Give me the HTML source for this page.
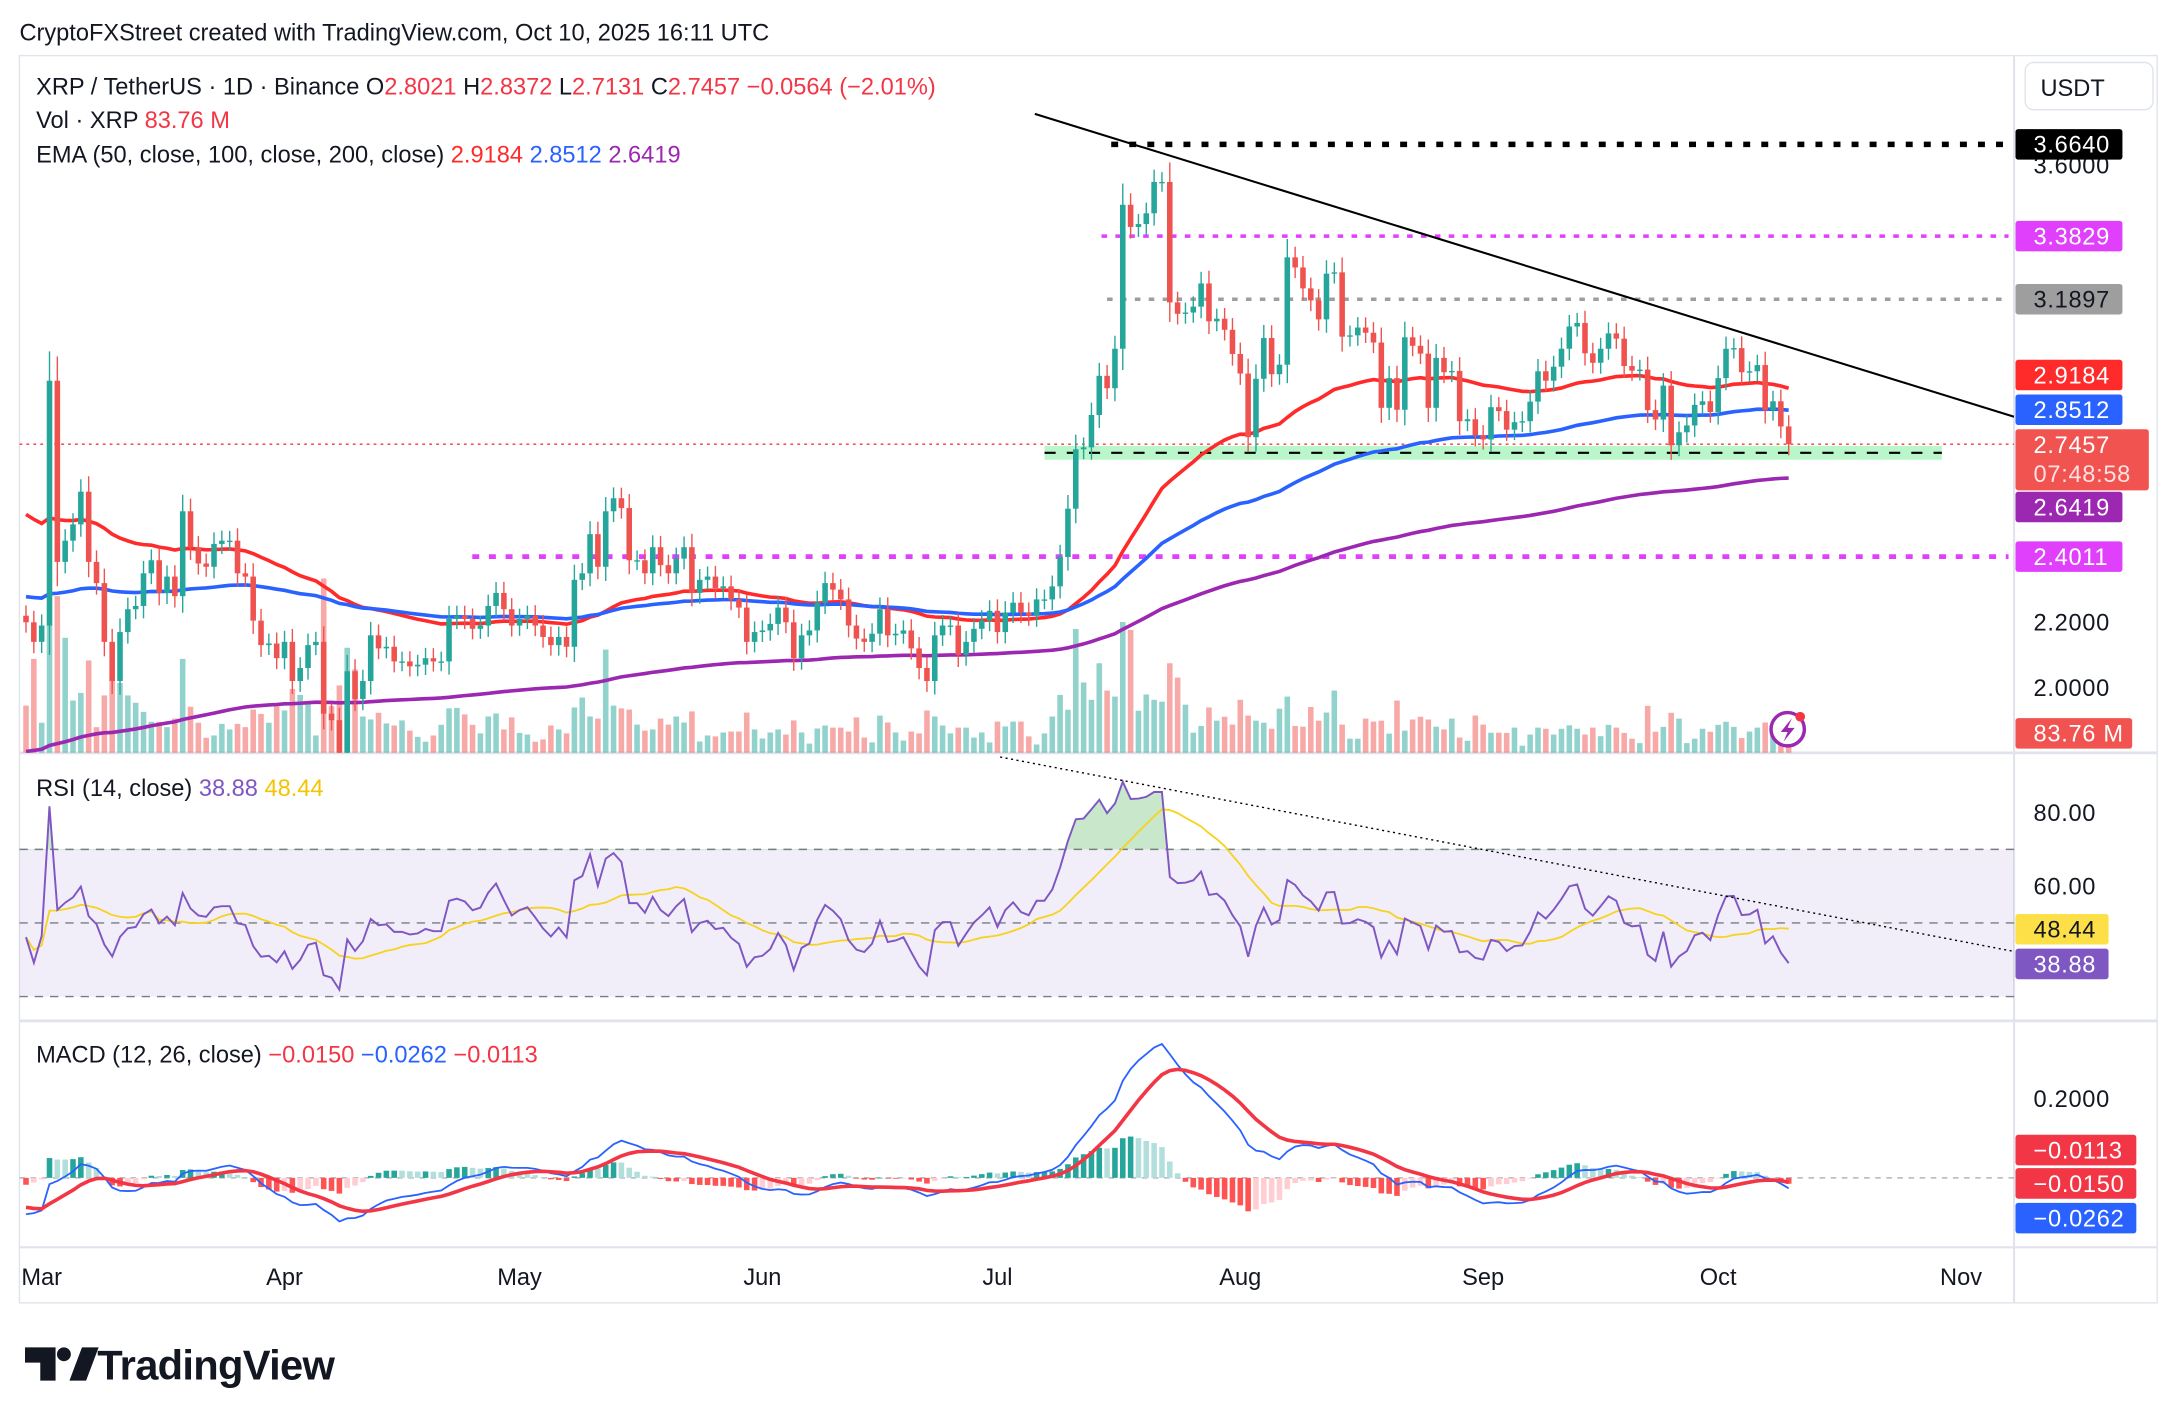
<!DOCTYPE html>
<html><head><meta charset="utf-8"><style>
html,body{margin:0;padding:0;background:#fff;}
svg{display:block;font-family:"Liberation Sans",sans-serif;}
</style></head><body>
<svg id="chart" width="2178" height="1424" viewBox="0 0 1568 1025.2" preserveAspectRatio="none" xmlns="http://www.w3.org/2000/svg">
<rect x="0" y="0" width="1568" height="1026" fill="#fff"/>
<text x="14" y="29" font-size="17" fill="#131722">CryptoFXStreet created with TradingView.com, Oct 10, 2025 16:11 UTC</text>
<rect x="14" y="40" width="1539" height="898" fill="none" stroke="#e0e3eb" stroke-width="1"/>
<line x1="1450" y1="40" x2="1450" y2="938" stroke="#e0e3eb" stroke-width="1.5"/>
<line x1="14" y1="542" x2="1553" y2="542" stroke="#e0e3eb" stroke-width="2"/>
<line x1="14" y1="735" x2="1553" y2="735" stroke="#e0e3eb" stroke-width="2"/>
<line x1="14" y1="898" x2="1553" y2="898" stroke="#e0e3eb" stroke-width="1.5"/>
<g id="main"></g>
<g id="rsi"></g>
<g id="macd"></g>
<g id="axes"></g>
<g id="legend">
<text x="26" y="68" font-size="17" fill="#131722">XRP / TetherUS · 1D · Binance  O<tspan fill="#f23645">2.8021</tspan>  H<tspan fill="#f23645">2.8372</tspan>  L<tspan fill="#f23645">2.7131</tspan>  C<tspan fill="#f23645">2.7457</tspan>  <tspan fill="#f23645">−0.0564 (−2.01%)</tspan></text>
<text x="26" y="92" font-size="17" fill="#131722">Vol · XRP  <tspan fill="#f23645">83.76 M</tspan></text>
<text x="26" y="117" font-size="17" fill="#131722">EMA (50, close, 100, close, 200, close)  <tspan fill="#ff2b2b">2.9184</tspan>  <tspan fill="#2962ff">2.8512</tspan>  <tspan fill="#9c27b0">2.6419</tspan></text>
<text x="26" y="573" font-size="17" fill="#131722">RSI (14, close)  <tspan fill="#7e57c2">38.88</tspan>  <tspan fill="#f5c400">48.44</tspan></text>
<text x="26" y="765" font-size="17" fill="#131722">MACD (12, 26, close)  <tspan fill="#f23645">−0.0150</tspan>  <tspan fill="#2962ff">−0.0262</tspan>  <tspan fill="#f23645">−0.0113</tspan></text>
</g>
<g>
<rect x="1458" y="45" width="92" height="34" rx="6" fill="#fff" stroke="#e0e3eb"/>
<text x="1469" y="69" font-size="17" fill="#131722">USDT</text>
</g>
<g>
<path d="M18 970 h22 v24 h-11 v-13 h-11 z" fill="#131722"/>
<circle cx="46" cy="975" r="5" fill="#131722"/>
<path d="M50 994 l9 -24 h12 l-9 24 z" fill="#131722"/>
<text x="70" y="993" font-size="30" font-weight="bold" fill="#131722" letter-spacing="-0.5">TradingView</text>
</g>
</svg>
<script>
const closes = [2.20,2.14,2.19,2.94,2.385,2.45,2.50,2.60,2.385,2.32,
2.14,2.02,2.17,2.24,2.25,2.35,2.39,2.29,2.34,2.28,
2.54,2.43,2.38,2.37,2.44,2.45,2.45,2.35,2.34,2.205,
2.13,2.135,2.09,2.14,2.02,2.06,2.13,2.14,1.92,1.90,
1.80,2.05,1.965,2.02,2.16,2.12,2.125,2.08,2.08,2.065,
2.07,2.09,2.08,2.08,2.21,2.22,2.21,2.18,2.19,2.25,
2.29,2.24,2.19,
2.21,2.22,2.19,2.155,2.13,2.155,2.125,2.33,2.35,2.47,
2.37,2.54,2.58,2.55,2.39,2.39,2.35,2.43,2.375,2.35,
2.395,2.43,2.29,2.33,2.34,2.305,2.31,2.27,2.245,2.14,
2.17,2.175,2.195,2.245,2.20,2.09,2.16,2.175,2.26,2.32,
2.30,2.27,2.19,2.15,2.14,2.165,2.24,2.16,2.165,2.175,
2.12,2.06,2.02,2.16,2.19,2.19,2.10,2.14,2.18,2.205,
2.235,2.17,2.23,2.26,2.23,2.22,2.27,2.27,2.31,2.40,
2.548,2.73,2.736,2.835,2.955,2.917,3.038,3.479,3.411,3.42,
3.453,3.549,3.549,3.18,3.145,3.149,3.167,3.238,3.122,3.13,
3.096,3.022,2.962,2.767,2.946,3.071,2.96,2.989,3.318,3.287,
3.223,3.186,3.128,3.268,3.272,3.075,3.079,3.103,3.087,3.057,
2.857,2.948,2.851,3.073,3.047,3.023,2.857,3.01,2.966,2.97,
2.816,2.822,2.773,2.76,2.859,2.847,
2.79,2.813,2.816,2.876,2.969,2.94,2.983,3.038,3.106,3.117,
3.024,2.995,3.038,3.085,3.069,2.985,2.971,2.974,2.85,2.821,
2.925,2.742,2.782,2.803,2.866,2.877,2.844,2.948,3.038,3.04,
2.966,2.969,2.988,2.85,2.877,2.8,2.7457];
const volumes = [204,406,130,560,677,497,226,259,399,111,
248,331,302,248,216,177,134,134,111,148,
406,199,130,65,75,125,101,125,111,187,
168,130,202,183,276,250,220,75,753,202,
291,454,360,157,144,173,127,118,140,96,
69,48,75,121,192,194,166,121,84,157,
170,101,153,
86,79,48,58,118,101,84,196,239,157,
148,446,204,192,187,122,96,101,148,122,
157,131,179,49,75,71,88,92,92,174,
101,62,88,101,79,140,88,40,105,118,
109,109,92,153,66,45,161,131,88,53,
92,84,183,157,118,84,109,109,66,88,
45,135,114,135,135,71,36,84,157,250,
186,535,304,229,387,269,243,565,531,182,
252,229,221,387,325,208,87,116,196,139,
156,122,229,161,139,130,104,191,243,116,
113,198,139,174,269,122,61,61,148,135,
139,83,226,96,144,156,144,113,101,148,
66,52,161,122,87,87,
86,109,31,79,109,104,79,104,119,104,
79,109,72,121,109,86,61,42,203,91,
112,173,148,42,61,104,91,121,134,112,
64,92,109,131,109,120,84];
const firstOpen = 2.22;
const emaSeeds = [2.544, 2.28, 1.80];
const priceTicks = [3.6, 2.2, 2.0];
const rsiTicks = [80, 60];
const macdTicks = [0.2];
const monthLabels = ["Mar","Apr","May","Jun","Jul","Aug","Sep","Oct","Nov"];
const monthDays = [0,31,61,92,122,153,184,214,245];
const levels = [3.664, 3.3829, 3.1897, 2.4011];

const NS = "http://www.w3.org/2000/svg";
function mk(tag, attrs, parent){const e=document.createElementNS(NS,tag);for(const k in attrs)e.setAttribute(k,attrs[k]);parent.appendChild(e);return e;}
const xOf = i => 18.72 + 5.64*i;
const xDay = d => 30 + 5.64*d;
const yP = p => 495 - (p-2)*235;
const yR = v => 638 - (v-60)*2.65;
const yM = v => 848 - v*285;
const yV = v => 542 - v/6;
const main = document.getElementById('main'), rsiG = document.getElementById('rsi'), macdG = document.getElementById('macd'), axes = document.getElementById('axes');
const N = closes.length;
const opens = closes.map((c,i)=> i===0 ? firstOpen : closes[i-1]);

const defs = mk('defs',{},document.getElementById('chart'));
const cp = mk('clipPath',{id:'mainclip'},defs); mk('rect',{x:14,y:40,width:1436,height:502},cp);
const cpr = mk('clipPath',{id:'obclip'},defs); mk('rect',{x:14,y:542,width:1436,height:70},cpr);
main.setAttribute('clip-path','url(#mainclip)');

for(let i=0;i<N;i++){
  const up = closes[i]>=opens[i];
  const r = mk('rect',{x:xOf(i)-2,y:yV(volumes[i]),width:4,height:542-yV(volumes[i]),fill: up?'rgba(38,166,154,0.5)':'rgba(239,83,80,0.5)'},main);
  
  
}
const lvCol = ['#000','#e040fb','#9e9e9e','#e040fb'];
const lvX = [800,793,797,340];
const lvDash = ['5 8','4 6','4 6','5 7'];
const lvW = [4,2.5,2.5,3.5];
levels.forEach((lv,k)=>{
  const l = mk('line',{x1:lvX[k],x2:1446,y1:yP(lv),y2:yP(lv),stroke:lvCol[k],'stroke-width':lvW[k],'stroke-dasharray':lvDash[k]},main);
  
  
});
const zone = mk('rect',{x:752,y:321,width:646,height:10,fill:'#b9f6ca'},main);


mk('line',{x1:752,x2:1398,y1:326,y2:326,stroke:'#000','stroke-width':1.5,'stroke-dasharray':'8 8'},main);
const pl = mk('line',{x1:14,x2:1450,y1:yP(2.7457),y2:yP(2.7457),stroke:'#f23645','stroke-width':1,'stroke-dasharray':'2 3'},main);


const tl = mk('line',{x1:745,y1:82,x2:1450,y2:300,stroke:'#000','stroke-width':1.5},main);



function ema(arr, n, seed){const k=2/(n+1);let e=seed;return arr.map(v=>(e=v*k+e*(1-k)));}
const emaCols=['#ff2b2b','#2962ff','#9c27b0'], emaN=[50,100,200], emaNames=['ema-50-line','ema-100-line','ema-200-line'];
emaN.forEach((n,k)=>{
  const e = ema(closes,n,emaSeeds[k]);
  const p = mk('path',{d:e.map((v,i)=>(i?'L':'M')+xOf(i).toFixed(1)+' '+yP(v).toFixed(1)).join(''),fill:'none',stroke:emaCols[k],'stroke-width':2.6},main);
  
  
});
for(let i=0;i<N;i++){
  const o=opens[i],c=closes[i],up=c>=o,col=up?'#26a69a':'#ef5350';
  const hi=Math.max(o,c)+0.03+Math.abs(c-o)*0.08, lo=Math.min(o,c)-0.03-Math.abs(c-o)*0.08;
  const g = mk('g',{},main);
  
  
  mk('line',{x1:xOf(i),x2:xOf(i),y1:yP(hi),y2:yP(lo),stroke:col,'stroke-width':1},g);
  mk('rect',{x:xOf(i)-2,y:yP(Math.max(o,c)),width:4,height:Math.max(1,Math.abs(yP(o)-yP(c))),fill:col},g);
}
const li = mk('g',{},main);  
mk('circle',{cx:1287,cy:525,r:12,fill:'#fff',stroke:'#9c27b0','stroke-width':2.5},li);
mk('path',{d:'M1290 517 l-8 10 h5 l-3 7 l8 -10 h-5 z',fill:'#9c27b0'},li);
mk('circle',{cx:1296,cy:516,r:3.5,fill:'#f23645'},li);

const rsi=[]; {let ag=0,al=0;
 for(let i=0;i<N;i++){const ch=i?closes[i]-closes[i-1]:0;const g=Math.max(ch,0),l=Math.max(-ch,0);
  if(i===0){ag=0.012;al=0.014;} else {ag=(ag*13+g)/14;al=(al*13+l)/14;}
  rsi.push(100-100/(1+ag/Math.max(al,1e-9)));}}
const rsiMa = rsi.map((v,i)=>{const s=rsi.slice(Math.max(0,i-13),i+1);return s.reduce((a,b)=>a+b,0)/s.length;});
mk('rect',{x:14,y:yR(70),width:1436,height:yR(30)-yR(70),fill:'rgba(126,87,194,0.1)'},rsiG);
[70,50,30].forEach(v=>mk('line',{x1:14,x2:1450,y1:yR(v),y2:yR(v),stroke:'#787b86','stroke-width':1,'stroke-dasharray':'6 5'},rsiG));
const rsiD = rsi.map((v,i)=>(i?'L':'M')+xOf(i).toFixed(1)+' '+yR(v).toFixed(1)).join('');
mk('path',{d:rsiD+`L${xOf(N-1)} ${yR(70)}L${xOf(0)} ${yR(70)}Z`,fill:'rgba(76,175,80,0.3)','clip-path':'url(#obclip)'},rsiG);
const rm = mk('path',{d:rsiMa.map((v,i)=>(i?'L':'M')+xOf(i).toFixed(1)+' '+yR(v).toFixed(1)).join(''),fill:'none',stroke:'#f7d21e','stroke-width':1.3},rsiG);
 
const rl = mk('path',{d:rsiD,fill:'none',stroke:'#7e57c2','stroke-width':1.4},rsiG);
 
mk('line',{x1:720,y1:545,x2:1450,y2:685,stroke:'#000','stroke-width':1,'stroke-dasharray':'1.5 2.5'},rsiG);

const e12=ema(closes,12,2.19), e26=ema(closes,26,2.29);
const macd=e12.map((v,i)=>v-e26[i]); const sig=ema(macd,9,-0.07); const hist=macd.map((v,i)=>v-sig[i]);
mk('line',{x1:14,x2:1450,y1:yM(0),y2:yM(0),stroke:'#b2b5be','stroke-width':1,'stroke-dasharray':'4 4'},macdG);
for(let i=0;i<N;i++){const h=hist[i],pr=i?hist[i-1]:0;
 const col = h>=0 ? (h>=pr?'#26a69a':'#b2dfdb') : (h<=pr?'#ff5252':'#ffcdd2');
 const r=mk('rect',{x:xOf(i)-2,y:Math.min(yM(h),yM(0)),width:4,height:Math.max(0.5,Math.abs(yM(h)-yM(0))),fill:col},macdG);
 
 }
const ml=mk('path',{d:macd.map((v,i)=>(i?'L':'M')+xOf(i).toFixed(1)+' '+yM(v).toFixed(1)).join(''),fill:'none',stroke:'#2962ff','stroke-width':1.3},macdG);
 
const sl=mk('path',{d:sig.map((v,i)=>(i?'L':'M')+xOf(i).toFixed(1)+' '+yM(v).toFixed(1)).join(''),fill:'none',stroke:'#f23645','stroke-width':2.6},macdG);
 

function tick(txt,y,name){const t=mk('text',{x:1464,y:y+6,'font-size':17,fill:'#131722','letter-spacing':'0.5'},axes);t.textContent=txt;
  }
priceTicks.forEach(p=>tick(p.toFixed(4),yP(p),'price-tick'));
rsiTicks.forEach(v=>tick(v.toFixed(2),yR(v),'rsi-tick'));
macdTicks.forEach(v=>tick(v.toFixed(4),yM(v),'macd-tick'));
monthLabels.forEach((m,k)=>{const t=mk('text',{x:xDay(monthDays[k]),y:925,'font-size':17,'text-anchor':'middle',fill:'#131722'},axes);t.textContent=m;
  });
function badge(txt,y,bg,fg,w,name,h){h=h||22;const g=mk('g',{},axes);
 mk('rect',{x:1451,y:y-11,width:w||77,height:h,rx:2,fill:bg},g);
 const t=mk('text',{x:1464,y:y+6,'font-size':17,fill:fg,'letter-spacing':'0.5'},g);t.textContent=txt;return g;}
badge('3.6640',yP(3.664),'#000','#fff',0,'level-label-3.6640');
badge('3.3829',yP(3.3829),'#e040fb','#fff',0,'level-label-3.3829');
badge('3.1897',yP(3.1897),'#9e9e9e','#131722',0,'level-label-3.1897');
badge('2.9184',270,'#ff2b2b','#fff',0,'ema50-label');
badge('2.8512',295,'#2962ff','#fff',0,'ema100-label');
const lp=badge('2.7457',320,'#f05350','#fff',96,'last-price-label',44);
const cd=mk('text',{x:1464,y:347,'font-size':17,fill:'#fde0df','letter-spacing':'0.5'},lp);cd.textContent='07:48:58';
badge('2.6419',365,'#9c27b0','#fff',0,'ema200-label');
badge('2.4011',yP(2.4011),'#e040fb','#fff',0,'level-label-2.4011');
badge('83.76 M',528,'#f05350','#fff',84,'volume-label');
badge('48.44',669,'#fde047','#131722',67,'rsi-ma-label');
badge('38.88',694,'#7e57c2','#fff',67,'rsi-label');
badge('−0.0113',828,'#f23645','#fff',87,'macd-hist-label');
badge('−0.0150',852,'#f23645','#fff',87,'macd-signal-label');
badge('−0.0262',877,'#2962ff','#fff',87,'macd-label');
</script>
</body></html>
